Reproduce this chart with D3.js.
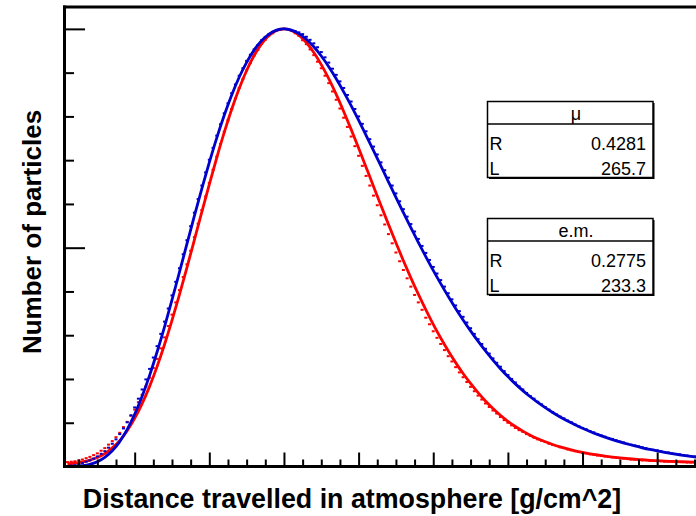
<!DOCTYPE html>
<html>
<head>
<meta charset="utf-8">
<script src="https://cdn.jsdelivr.net/npm/d3@7"></script>
<style>
  html, body { margin: 0; padding: 0; background: #fff; }
  svg { display: block; }
</style>
</head>
<body>
<div id="chart"></div>
<script>
// fitted shower profiles, X - Xmax in g/cm^2, normalised to the maximum
const fitStart = -580, fitStep = 20;
const muFit = [
  0.0001, 0.0004, 0.0017, 0.0047, 0.0107, 0.0207, 0.0358, 0.0569, 0.0847, 0.1193,
  0.1606, 0.2082, 0.2616, 0.3193, 0.3806, 0.4441, 0.5086, 0.5725, 0.6350, 0.6947,
  0.7510, 0.8025, 0.8489, 0.8895, 0.9236, 0.9515, 0.9731, 0.9882, 0.9971, 1.0000,
  0.9972, 0.9892, 0.9763, 0.9591, 0.9380, 0.9135, 0.8860, 0.8562, 0.8246, 0.7913,
  0.7568, 0.7217, 0.6863, 0.6506, 0.6151, 0.5802, 0.5459, 0.5123, 0.4798, 0.4482,
  0.4180, 0.3890, 0.3613, 0.3349, 0.3099, 0.2863, 0.2640, 0.2431, 0.2235, 0.2055,
  0.1888, 0.1735, 0.1594, 0.1464, 0.1345, 0.1234, 0.1133, 0.1039, 0.0953, 0.0874,
  0.0801, 0.0733, 0.0672, 0.0615, 0.0562, 0.0514, 0.0469, 0.0428, 0.0390, 0.0356,
  0.0324, 0.0294, 0.0267, 0.0242, 0.0219, 0.0198
];
const emFit = [
  0.0060, 0.0080, 0.0105, 0.0145, 0.0205, 0.0295, 0.0425, 0.0592, 0.0818, 0.1099,
  0.1436, 0.1831, 0.2282, 0.2787, 0.3338, 0.3928, 0.4545, 0.5179, 0.5818, 0.6448,
  0.7059, 0.7634, 0.8164, 0.8639, 0.9050, 0.9391, 0.9658, 0.9848, 0.9962, 1.0000,
  0.9964, 0.9859, 0.9689, 0.9462, 0.9183, 0.8861, 0.8502, 0.8113, 0.7703, 0.7277,
  0.6840, 0.6400, 0.5964, 0.5533, 0.5111, 0.4703, 0.4311, 0.3937, 0.3582, 0.3248,
  0.2935, 0.2644, 0.2374, 0.2125, 0.1897, 0.1688, 0.1498, 0.1326, 0.1170, 0.1033,
  0.0914, 0.0809, 0.0716, 0.0636, 0.0565, 0.0503, 0.0449, 0.0401, 0.0359, 0.0323,
  0.0291, 0.0263, 0.0238, 0.0216, 0.0197, 0.0181, 0.0166, 0.0154, 0.0142, 0.0133,
  0.0124, 0.0117, 0.0110, 0.0104, 0.0099, 0.0095
];

// histogram contents (one per bin)
const histStart = -580, histStep = 10;
const muHist = [
  0.001, 0.002, 0.003, 0.005, 0.008, 0.011, 0.014, 0.018, 0.023, 0.029,
  0.035, 0.043, 0.052, 0.062, 0.074, 0.087, 0.101, 0.117, 0.135, 0.155,
  0.176, 0.199, 0.223, 0.249, 0.275, 0.303, 0.331, 0.361, 0.391, 0.422,
  0.453, 0.485, 0.517, 0.549, 0.580, 0.611, 0.642, 0.672, 0.701, 0.728,
  0.756, 0.782, 0.807, 0.830, 0.853, 0.873, 0.893, 0.910, 0.927, 0.941,
  0.953, 0.963, 0.974, 0.981, 0.988, 0.993, 0.997, 0.999, 1.000, 0.999,
  0.997, 0.995, 0.992, 0.988, 0.982, 0.975, 0.967, 0.958, 0.947, 0.935,
  0.923, 0.909, 0.895, 0.880, 0.865, 0.849, 0.834, 0.817, 0.800, 0.783,
  0.766, 0.748, 0.731, 0.713, 0.695, 0.677, 0.660, 0.642, 0.624, 0.606,
  0.588, 0.571, 0.554, 0.537, 0.520, 0.504, 0.488, 0.472, 0.456, 0.441,
  0.426, 0.411, 0.396, 0.382, 0.368, 0.355, 0.342, 0.329, 0.316, 0.303,
  0.291, 0.280, 0.269, 0.258, 0.247, 0.237, 0.228, 0.218, 0.209, 0.200,
  0.192, 0.183, 0.176, 0.168, 0.161, 0.155, 0.148, 0.142, 0.136, 0.130,
  0.124, 0.119, 0.114, 0.110, 0.105, 0.101, 0.096, 0.092, 0.088, 0.085,
  0.081, 0.078, 0.074, 0.071, 0.068, 0.065, 0.063, 0.060, 0.057, 0.055,
  0.052, 0.050, 0.048, 0.046, 0.044, 0.042, 0.040, 0.038, 0.037, 0.035,
  0.033, 0.032, 0.030, 0.029, 0.028, 0.026, 0.025, 0.024, 0.023, 0.022
];
const emHist = [
  0.010, 0.011, 0.012, 0.014, 0.016, 0.019, 0.022, 0.026, 0.030, 0.036,
  0.042, 0.050, 0.058, 0.067, 0.077, 0.090, 0.102, 0.116, 0.130, 0.147,
  0.164, 0.183, 0.203, 0.225, 0.246, 0.270, 0.295, 0.321, 0.347, 0.375,
  0.403, 0.433, 0.462, 0.493, 0.524, 0.555, 0.586, 0.617, 0.648, 0.678,
  0.708, 0.737, 0.765, 0.791, 0.817, 0.841, 0.865, 0.885, 0.905, 0.922,
  0.939, 0.952, 0.966, 0.975, 0.985, 0.990, 0.996, 0.999, 1.000, 0.999,
  0.996, 0.990, 0.984, 0.974, 0.965, 0.953, 0.940, 0.925, 0.910, 0.893,
  0.876, 0.857, 0.838, 0.818, 0.797, 0.776, 0.754, 0.732, 0.710, 0.687,
  0.664, 0.642, 0.619, 0.597, 0.574, 0.553, 0.531, 0.510, 0.489, 0.469,
  0.449, 0.430, 0.411, 0.392, 0.375, 0.358, 0.340, 0.325, 0.309, 0.294,
  0.280, 0.266, 0.252, 0.240, 0.227, 0.215, 0.204, 0.193, 0.182, 0.172,
  0.162, 0.153, 0.144, 0.136, 0.128, 0.121, 0.113, 0.106, 0.100, 0.094,
  0.088, 0.083, 0.079, 0.074, 0.070, 0.066, 0.062, 0.059, 0.056, 0.052,
  0.049, 0.047, 0.044, 0.042, 0.039, 0.037, 0.035, 0.033, 0.031, 0.030,
  0.028, 0.027, 0.025, 0.024, 0.023, 0.022, 0.021, 0.020, 0.019, 0.018,
  0.017, 0.016, 0.016, 0.015, 0.014, 0.014, 0.013, 0.013, 0.012, 0.012,
  0.011, 0.011, 0.011, 0.010, 0.010, 0.010, 0.009, 0.009, 0.009, 0.009
];

const statBoxes = [
  { title: "\u03bc", R: "0.4281", L: "265.7" },
  { title: "e.m.", R: "0.2775", L: "233.3" }
];
const xTitle = "Distance travelled in atmosphere [g/cm^2]";
const yTitle = "Number of particles";

const W = 696, H = 516;
const padL = 64.5, padB = 466.5, padT = 7;
const BLUE = "#0000cc", RED = "#ff0000";

const svg = d3.select("#chart").append("svg")
  .attr("width", W).attr("height", H)
  .style("font-family", "'Liberation Sans', Arial, Helvetica, sans-serif");

svg.append("rect").attr("width", W).attr("height", H).attr("fill", "#fff");

const x = d3.scaleLinear().domain([-588, 1104]).range([padL, W]);
const y = d3.scaleLinear().domain([0, 1.05]).range([padB, padT]);

svg.append("defs").append("clipPath").attr("id", "plotclip")
  .append("rect").attr("x", padL).attr("y", padT).attr("width", W - padL).attr("height", padB - padT);

const plot = svg.append("g").attr("clip-path", "url(#plotclip)");

const fitPts = (arr) => arr.map((v, i) => [fitStart + i * fitStep, v]);
const histPts = (arr) => arr.map((v, i) => [histStart + i * histStep, v]);

const line = d3.line().x(d => x(d[0])).y(d => y(d[1])).curve(d3.curveMonotoneX);

function drawSeries(fit, hist, color) {
  plot.append("path")
    .datum(fitPts(fit))
    .attr("fill", "none")
    .attr("stroke", color)
    .attr("stroke-width", 2.8)
    .attr("d", line);
  plot.append("g").selectAll("rect")
    .data(histPts(hist))
    .join("rect")
    .attr("x", d => x(d[0]) - 1.5)
    .attr("y", d => y(d[1]) - 1)
    .attr("width", 3)
    .attr("height", 2)
    .attr("fill", color);
}

drawSeries(emFit, emHist, RED);
drawSeries(muFit, muHist, BLUE);

// axes (ticks drawn inward)
const xMajor = d3.range(-400, 1001, 200);
const xMinor = d3.range(-550, 1101, 50).filter(v => v % 200 !== 0);
const yMajor = [0.5, 1.0];
const yMinor = [0.1, 0.2, 0.3, 0.4, 0.6, 0.7, 0.8, 0.9];

function styleAxis(g, w) {
  g.select(".domain").remove();
  g.selectAll(".tick line").attr("stroke", "#000").attr("stroke-width", w);
}

svg.append("g").attr("transform", `translate(0,${padB})`)
  .call(d3.axisBottom(x).tickValues(xMinor).tickSize(-7).tickFormat(""))
  .call(g => styleAxis(g, 2));
svg.append("g").attr("transform", `translate(0,${padB})`)
  .call(d3.axisBottom(x).tickValues(xMajor).tickSize(-14).tickFormat(""))
  .call(g => styleAxis(g, 2));
svg.append("g").attr("transform", `translate(${padL},0)`)
  .call(d3.axisLeft(y).tickValues(yMinor).tickSize(-9.5).tickFormat(""))
  .call(g => styleAxis(g, 2));
svg.append("g").attr("transform", `translate(${padL},0)`)
  .call(d3.axisLeft(y).tickValues(yMajor).tickSize(-20.5).tickFormat(""))
  .call(g => styleAxis(g, 2));

// frame lines
svg.append("line").attr("x1", padL).attr("x2", W).attr("y1", padB).attr("y2", padB)
  .attr("stroke", "#000").attr("stroke-width", 3);
svg.append("line").attr("x1", padL).attr("x2", padL).attr("y1", padT - 1.5).attr("y2", padB + 1.5)
  .attr("stroke", "#000").attr("stroke-width", 3);
svg.append("line").attr("x1", padL - 1.5).attr("x2", W).attr("y1", padT).attr("y2", padT)
  .attr("stroke", "#000").attr("stroke-width", 3);

// stat boxes
const boxX = 487.5, boxW = 165.5, boxH = 76, headH = 22.6;
const boxTops = [101.5, 218.5];
statBoxes.forEach((b, i) => {
  const g = svg.append("g").attr("transform", `translate(${boxX},${boxTops[i]})`);
  g.append("rect").attr("x", 1.5).attr("y", 1.5).attr("width", boxW).attr("height", boxH).attr("fill", "#000");
  g.append("rect").attr("width", boxW).attr("height", boxH)
    .attr("fill", "#fff").attr("stroke", "#000").attr("stroke-width", 1.5);
  g.append("line").attr("x1", 0).attr("x2", boxW).attr("y1", headH).attr("y2", headH)
    .attr("stroke", "#000").attr("stroke-width", 1.5);
  g.append("text").attr("x", 88.5).attr("y", 18).attr("text-anchor", "middle")
    .attr("font-size", 18).text(b.title);
  [["R", b.R, 48], ["L", b.L, 73.5]].forEach(([k, v, yy]) => {
    g.append("text").attr("x", 2).attr("y", yy).attr("font-size", 18).text(k);
    g.append("text").attr("x", 158.5).attr("y", yy).attr("text-anchor", "end")
      .attr("font-size", 18).text(v);
  });
});

// axis titles
svg.append("text").attr("x", 352).attr("y", 507.5).attr("text-anchor", "middle")
  .attr("font-size", 26.8).attr("font-weight", "bold").text(xTitle);
svg.append("text").attr("transform", "translate(41,232) rotate(-90)").attr("text-anchor", "middle")
  .attr("font-size", 26).attr("font-weight", "bold").text(yTitle);
</script>
</body>
</html>
